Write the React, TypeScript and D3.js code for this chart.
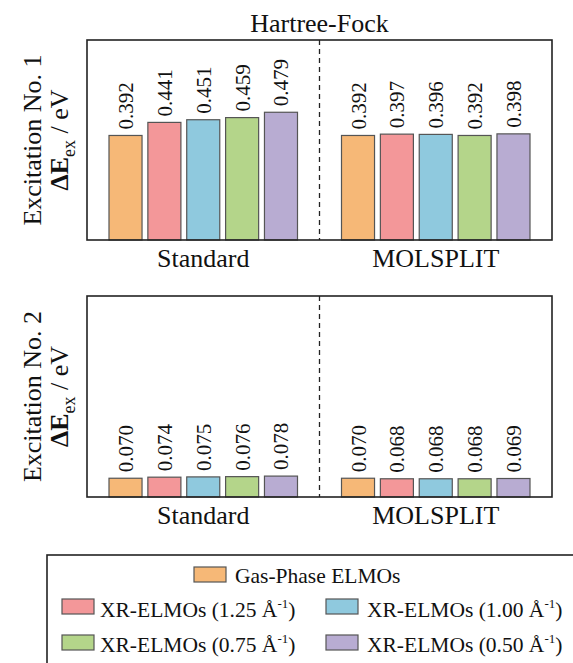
import React from 'react';
import * as d3 from 'd3';

// chart values
const methods = ['Standard', 'MOLSPLIT'];
const seriesNames = ['Gas-Phase ELMOs', 'XR-ELMOs 1.25', 'XR-ELMOs 1.00', 'XR-ELMOs 0.75', 'XR-ELMOs 0.50'];
const resolutions = ['', '1.25', '1.00', '0.75', '0.50'];
const colors = ['#F6B877', '#F39799', '#8FC9DE', '#B4D58A', '#B8ACD2'];

const exc1Standard = [0.392, 0.441, 0.451, 0.459, 0.479];
const exc1Molsplit = [0.392, 0.397, 0.396, 0.392, 0.398];
const exc2Standard = [0.07, 0.074, 0.075, 0.076, 0.078];
const exc2Molsplit = [0.07, 0.068, 0.068, 0.068, 0.069];

const yDomain = [0, 0.75];

const FONT = '"Liberation Serif", "Times New Roman", serif';
const fmt = d3.format('.3f');

const W = 573;
const H = 663;
const left = 87;
const right = 552;

const panels = [
  { name: 'Excitation No. 1', top: 40, bottom: 240, values: [exc1Standard, exc1Molsplit] },
  { name: 'Excitation No. 2', top: 296, bottom: 497, values: [exc2Standard, exc2Molsplit] },
];

const xGroup = d3.scaleBand().domain(methods).range([left, right]).padding(0);
const xInner = d3
  .scaleBand()
  .domain(seriesNames)
  .range([22, xGroup.bandwidth() - 22])
  .paddingInner(0.15)
  .paddingOuter(0);

const Panel = ({ p }) => {
  const y = d3.scaleLinear().domain(yDomain).range([p.bottom, p.top]);
  const mid = (p.top + p.bottom) / 2;
  const divX = (left + right) / 2;
  return (
    <g>
      {methods.map((m, gi) => (
        <g key={m} transform={`translate(${xGroup(m)},0)`}>
          {p.values[gi].map((v, i) => {
            const bx = xInner(seriesNames[i]);
            const cx = bx + xInner.bandwidth() / 2;
            return (
              <g key={i}>
                <rect
                  x={bx}
                  y={y(v)}
                  width={xInner.bandwidth()}
                  height={y(0) - y(v)}
                  fill={colors[i]}
                  stroke="#555"
                  strokeWidth={1.2}
                />
                <text
                  transform={`translate(${cx + 7.5},${y(v) - 6}) rotate(-90)`}
                  fontSize={21}
                  fontFamily={FONT}
                  fill="#111"
                >
                  {fmt(v)}
                </text>
              </g>
            );
          })}
          <text
            x={xGroup.bandwidth() / 2}
            y={p.bottom + 27}
            textAnchor="middle"
            fontSize={26}
            fontFamily={FONT}
            fill="#111"
          >
            {m}
          </text>
        </g>
      ))}
      <line x1={divX} x2={divX} y1={p.top} y2={p.bottom} stroke="#222" strokeWidth={1.3} strokeDasharray="5,4" />
      <rect x={left} y={p.top} width={right - left} height={p.bottom - p.top} fill="none" stroke="#222" strokeWidth={1.6} />
      <text transform={`translate(41,${mid}) rotate(-90)`} textAnchor="middle" fontSize={26} fontFamily={FONT} fill="#111">
        {p.name}
      </text>
      <text transform={`translate(68,${mid}) rotate(-90)`} textAnchor="middle" fontSize={26} fontFamily={FONT} fill="#111">
        <tspan fontWeight="bold">ΔE</tspan>
        <tspan fontSize={18} dy={7}>ex</tspan>
        <tspan dy={-7}>{'  / eV'}</tspan>
      </text>
    </g>
  );
};

const legendPos = [
  { sx: 194, sy: 567, tx: 235, ty: 583 },
  { sx: 62, sy: 599, tx: 100, ty: 617 },
  { sx: 326, sy: 599, tx: 367, ty: 617 },
  { sx: 62, sy: 635, tx: 100, ty: 652 },
  { sx: 326, sy: 635, tx: 367, ty: 652 },
];

const Legend = () => (
  <g>
    <rect x={47} y={555} width={560} height={140} fill="none" stroke="#222" strokeWidth={1.6} />
    {seriesNames.map((s, i) => {
      const lp = legendPos[i];
      return (
        <g key={s}>
          <rect x={lp.sx} y={lp.sy} width={32} height={15} fill={colors[i]} stroke="#555" strokeWidth={1.2} />
          <text x={lp.tx} y={lp.ty} fontSize={21.5} fontFamily={FONT} fill="#111">
            {i === 0 ? (
              s
            ) : (
              <>
                <tspan>{`XR-ELMOs (${resolutions[i]} Å`}</tspan>
                <tspan fontSize={13} dy={-9}>-1</tspan>
                <tspan dy={9}>)</tspan>
              </>
            )}
          </text>
        </g>
      );
    })}
  </g>
);

export default function App() {
  return (
    <svg width={W} height={H} style={{ position: 'absolute', left: 0, top: 0, background: '#fff' }}>
      <text x={(left + right) / 2} y={32} textAnchor="middle" fontSize={26} fontFamily={FONT} fill="#111">
        Hartree-Fock
      </text>
      {panels.map((p) => (
        <Panel key={p.name} p={p} />
      ))}
      <Legend />
    </svg>
  );
}
